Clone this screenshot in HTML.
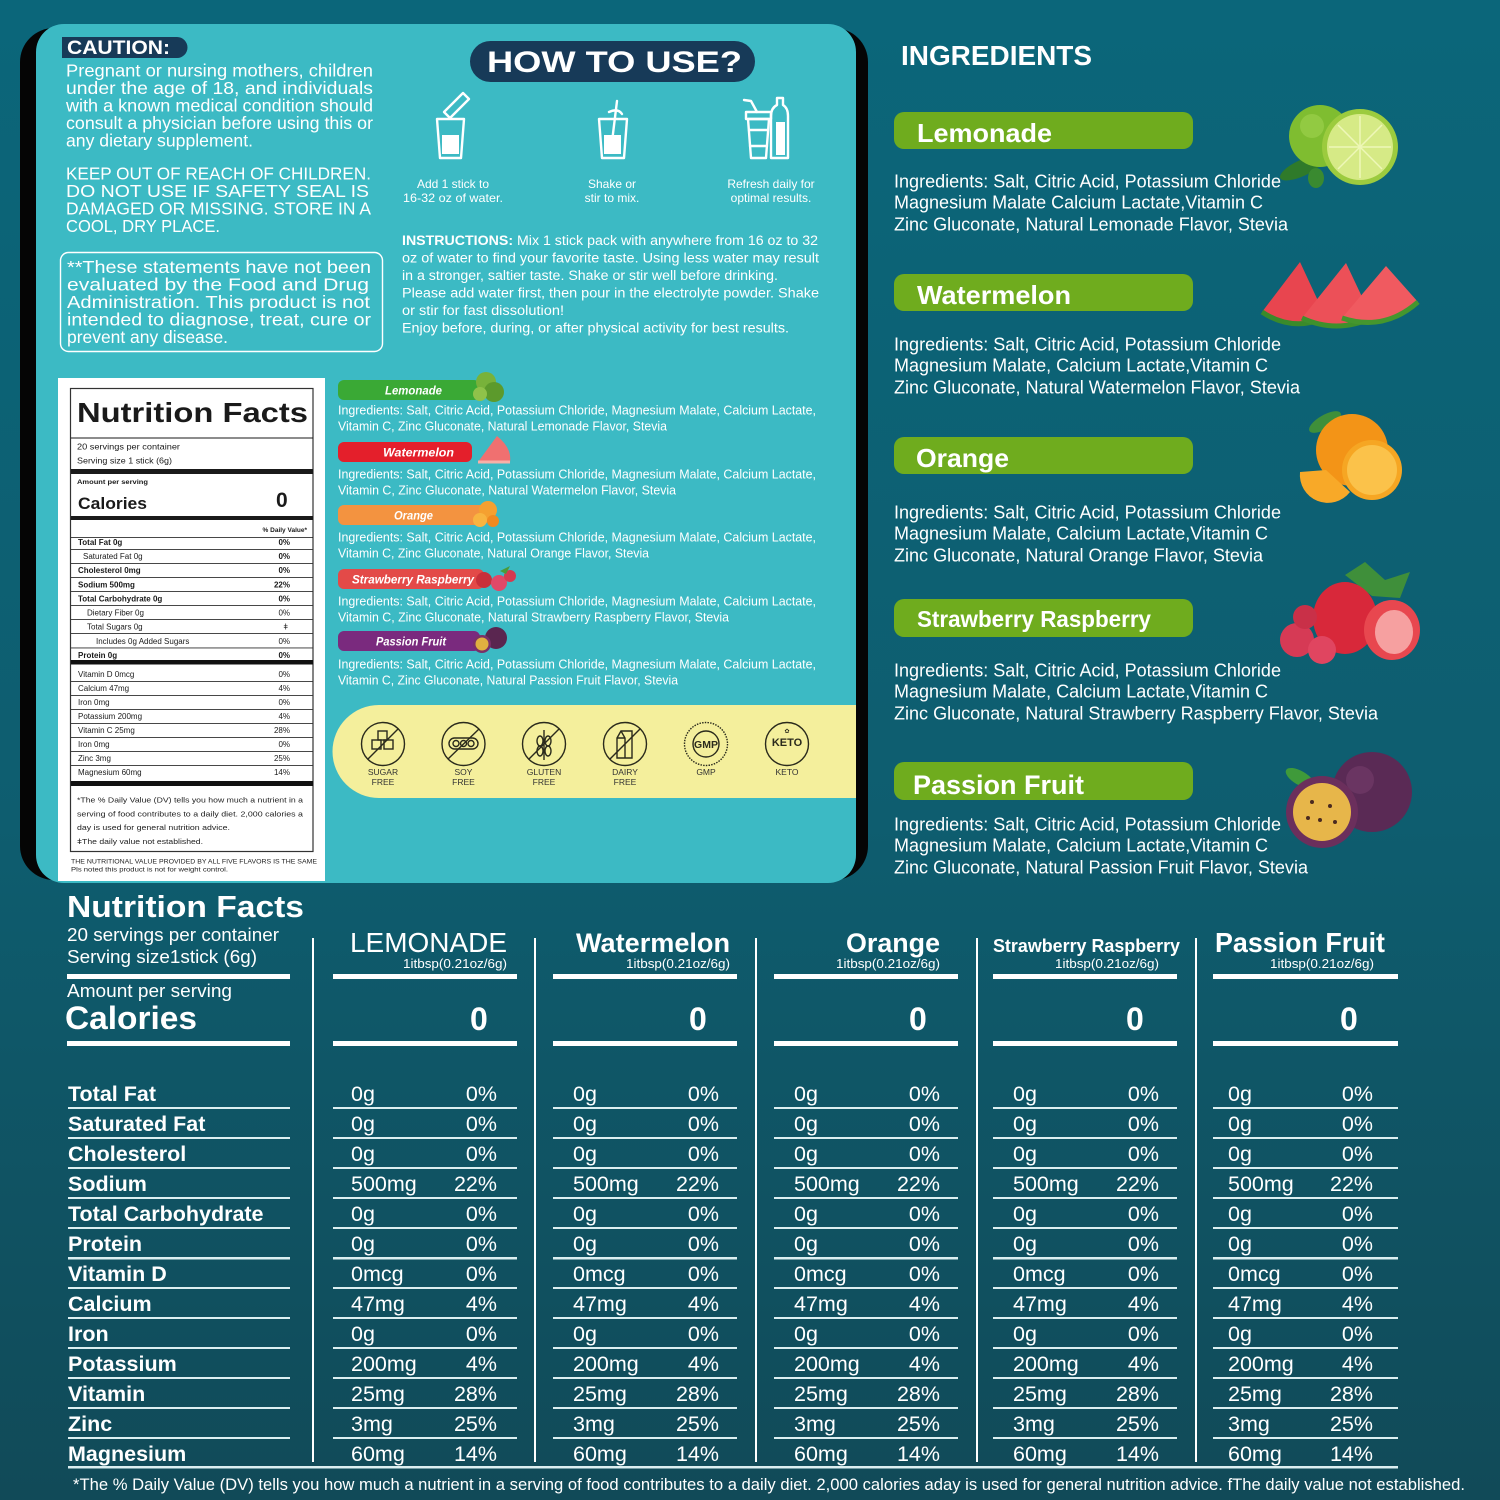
<!DOCTYPE html>
<html><head><meta charset="utf-8">
<style>
html,body{margin:0;padding:0;background:#0e6174;}
svg{display:block}
text{font-family:"Liberation Sans",Arial,sans-serif;}
</style></head><body>
<svg width="1500" height="1500" viewBox="0 0 1500 1500" xmlns="http://www.w3.org/2000/svg">
<defs>
<linearGradient id="bg" x1="0" y1="0" x2="0" y2="1">
<stop offset="0" stop-color="#0b667a"/>
<stop offset="0.55" stop-color="#0e5d6f"/>
<stop offset="1" stop-color="#114a58"/>
</linearGradient>
</defs>
<rect width="1500" height="1500" fill="url(#bg)"/>

<!-- left panel -->
<rect x="20" y="28" width="848" height="852" rx="34" fill="#050505"/>
<rect x="36" y="24" width="820" height="859" rx="28" fill="#3cbac4"/>

<!-- caution -->
<path d="M62 37 H177 A10.5 10.5 0 0 1 177 58 H62 Z" fill="#173a58"/>
<text x="67" y="54" font-size="19" font-weight="bold" fill="#fff" textLength="103" lengthAdjust="spacingAndGlyphs">CAUTION:</text>
<g fill="#fff" font-size="17.5">
<text x="66" y="76.5" textLength="307" lengthAdjust="spacingAndGlyphs">Pregnant or nursing mothers, children</text>
<text x="66" y="94" textLength="307" lengthAdjust="spacingAndGlyphs">under the age of 18, and individuals</text>
<text x="66" y="111.5" textLength="307" lengthAdjust="spacingAndGlyphs">with a known medical condition should</text>
<text x="66" y="129" textLength="307" lengthAdjust="spacingAndGlyphs">consult a physician before using this or</text>
<text x="66" y="146.5" textLength="187" lengthAdjust="spacingAndGlyphs">any dietary supplement.</text>
<text x="66" y="179.5" textLength="305" lengthAdjust="spacingAndGlyphs">KEEP OUT OF REACH OF CHILDREN.</text>
<text x="66" y="197" textLength="303" lengthAdjust="spacingAndGlyphs">DO NOT USE IF SAFETY SEAL IS</text>
<text x="66" y="214.5" textLength="305" lengthAdjust="spacingAndGlyphs">DAMAGED OR MISSING. STORE IN A</text>
<text x="66" y="232" textLength="154" lengthAdjust="spacingAndGlyphs">COOL, DRY PLACE.</text>
</g>
<rect x="60.5" y="252.5" width="322" height="99" rx="8" fill="none" stroke="#fff" stroke-width="1.4"/>
<g fill="#fff" font-size="17.5">
<text x="67" y="273" textLength="304" lengthAdjust="spacingAndGlyphs">**These statements have not been</text>
<text x="67" y="290.5" textLength="302" lengthAdjust="spacingAndGlyphs">evaluated by the Food and Drug</text>
<text x="67" y="308" textLength="303" lengthAdjust="spacingAndGlyphs">Administration. This product is not</text>
<text x="67" y="325.5" textLength="304" lengthAdjust="spacingAndGlyphs">intended to diagnose, treat, cure or</text>
<text x="67" y="343" textLength="161" lengthAdjust="spacingAndGlyphs">prevent any disease.</text>
</g>

<!-- how to use -->
<rect x="470" y="41" width="285" height="41" rx="20.5" fill="#173a58"/>
<text x="487" y="72" font-size="30" font-weight="bold" fill="#fff" textLength="255" lengthAdjust="spacingAndGlyphs">HOW TO USE?</text>

<g fill="none" stroke="#fff" stroke-width="2.4" stroke-linejoin="round" stroke-linecap="round">
<polygon points="444,112 463,93 469,99 450,118"/>
<path d="M437 119 H464 L461 158 H440 Z"/>
<path d="M599 119 H627 L624 158 H602 Z"/>
<path d="M611 150 L617 101"/>
<path d="M609 112 Q618 108 622 114"/>
<path d="M746 112 H771 V119 H746 Z"/>
<path d="M748 119 H769 L766 158 H751 Z"/>
<path d="M749 130 H768 M750 146 H767"/>
<path d="M757 112 L751 101 L744 100"/>
<path d="M771 158 V116 Q771 108 777 105 V98 H783 V105 Q788 108 788 116 V158 Z"/>
</g>
<rect x="442" y="135" width="17" height="19" fill="#fff"/>
<rect x="604" y="135" width="17" height="19" fill="#fff"/>
<rect x="776" y="122" width="9" height="33" fill="#fff"/>

<g fill="#fff" font-size="12" text-anchor="middle">
<text x="453" y="188">Add 1 stick to</text>
<text x="453" y="202" textLength="100" lengthAdjust="spacingAndGlyphs">16-32 oz of water.</text>
<text x="612" y="188">Shake or</text>
<text x="612" y="202">stir to mix.</text>
<text x="771" y="188">Refresh daily for</text>
<text x="771" y="202">optimal results.</text>
</g>

<g fill="#fff" font-size="13.5">
<text x="402" y="245" textLength="416" lengthAdjust="spacingAndGlyphs"><tspan font-weight="bold">INSTRUCTIONS:</tspan> Mix 1 stick pack with anywhere from 16 oz to 32</text>
<text x="402" y="262.5" textLength="417" lengthAdjust="spacingAndGlyphs">oz of water to find your favorite taste. Using less water may result</text>
<text x="402" y="280" textLength="376" lengthAdjust="spacingAndGlyphs">in a stronger, saltier taste. Shake or stir well before drinking.</text>
<text x="402" y="297.5" textLength="417" lengthAdjust="spacingAndGlyphs">Please add water first, then pour in the electrolyte powder. Shake</text>
<text x="402" y="315" textLength="162" lengthAdjust="spacingAndGlyphs">or stir for fast dissolution!</text>
<text x="402" y="332.5" textLength="387" lengthAdjust="spacingAndGlyphs">Enjoy before, during, or after physical activity for best results.</text>
</g>

<!-- nutrition label -->
<rect x="58" y="378" width="267" height="503" fill="#fff"/>
<rect x="70.5" y="388.5" width="242.5" height="463" fill="none" stroke="#333" stroke-width="1.2"/>
<g fill="#1a1a1a">
<text x="77" y="422" font-size="28" font-weight="bold" textLength="231" lengthAdjust="spacingAndGlyphs">Nutrition Facts</text>
<rect x="71" y="437.5" width="242" height="1"/>
<text x="77" y="449.5" font-size="8.5" textLength="103" lengthAdjust="spacingAndGlyphs">20 servings per container</text>
<text x="77" y="463.5" font-size="8.5" textLength="95" lengthAdjust="spacingAndGlyphs">Serving size 1 stick (6g)</text>
<rect x="71" y="469" width="242" height="5"/>
<text x="77" y="484" font-size="6.5" font-weight="bold" textLength="71" lengthAdjust="spacingAndGlyphs">Amount per serving</text>
<text x="78" y="509" font-size="17" font-weight="bold" textLength="69" lengthAdjust="spacingAndGlyphs">Calories</text>
<text x="276" y="507" font-size="21" font-weight="bold">0</text>
<rect x="71" y="516" width="242" height="4"/>
<text x="307" y="532" font-size="6.5" font-weight="bold" text-anchor="end">% Daily Value*</text>
<rect x="71" y="537" width="242" height="0.8"/>
</g>
<g fill="#1a1a1a" font-size="8">
<text x="78" y="545" font-weight="bold">Total Fat 0g</text><text x="290" y="545" text-anchor="end" font-weight="bold">0%</text>
<text x="83" y="559">Saturated Fat 0g</text><text x="290" y="559" text-anchor="end" font-weight="bold">0%</text>
<text x="78" y="573" font-weight="bold">Cholesterol 0mg</text><text x="290" y="573" text-anchor="end" font-weight="bold">0%</text>
<text x="78" y="587.5" font-weight="bold">Sodium 500mg</text><text x="290" y="587.5" text-anchor="end" font-weight="bold">22%</text>
<text x="78" y="601.5" font-weight="bold">Total Carbohydrate 0g</text><text x="290" y="601.5" text-anchor="end" font-weight="bold">0%</text>
<text x="87" y="615.5">Dietary Fiber 0g</text><text x="290" y="615.5" text-anchor="end">0%</text>
<text x="87" y="629.5">Total Sugars 0g</text><text x="288" y="629.5" text-anchor="end">ǂ</text>
<text x="96" y="644">Includes 0g Added Sugars</text><text x="290" y="644" text-anchor="end">0%</text>
<text x="78" y="658" font-weight="bold">Protein 0g</text><text x="290" y="658" text-anchor="end" font-weight="bold">0%</text>
<text x="78" y="677">Vitamin D 0mcg</text><text x="290" y="677" text-anchor="end">0%</text>
<text x="78" y="691">Calcium 47mg</text><text x="290" y="691" text-anchor="end">4%</text>
<text x="78" y="705">Iron 0mg</text><text x="290" y="705" text-anchor="end">0%</text>
<text x="78" y="719">Potassium 200mg</text><text x="290" y="719" text-anchor="end">4%</text>
<text x="78" y="733">Vitamin C 25mg</text><text x="290" y="733" text-anchor="end">28%</text>
<text x="78" y="747">Iron 0mg</text><text x="290" y="747" text-anchor="end">0%</text>
<text x="78" y="761">Zinc 3mg</text><text x="290" y="761" text-anchor="end">25%</text>
<text x="78" y="775">Magnesium 60mg</text><text x="290" y="775" text-anchor="end">14%</text>
</g>
<g fill="#333">
<rect x="71" y="549" width="242" height="0.9"/>
<rect x="71" y="563" width="242" height="0.9"/>
<rect x="71" y="577" width="242" height="0.9"/>
<rect x="71" y="591" width="242" height="0.9"/>
<rect x="71" y="605" width="242" height="0.9"/>
<rect x="71" y="619" width="242" height="0.9"/>
<rect x="71" y="633" width="242" height="0.9"/>
<rect x="71" y="647.5" width="242" height="0.9"/>
<rect x="71" y="660" width="242" height="4.5" fill="#111"/>
<rect x="71" y="681" width="242" height="0.9"/>
<rect x="71" y="695" width="242" height="0.9"/>
<rect x="71" y="709" width="242" height="0.9"/>
<rect x="71" y="723" width="242" height="0.9"/>
<rect x="71" y="737" width="242" height="0.9"/>
<rect x="71" y="751" width="242" height="0.9"/>
<rect x="71" y="765" width="242" height="0.9"/>
<rect x="71" y="781" width="242" height="5" fill="#111"/>
</g>
<g fill="#222" font-size="7.5">
<text x="77" y="802.5" textLength="226" lengthAdjust="spacingAndGlyphs">*The % Daily Value (DV) tells you how much a nutrient in a</text>
<text x="77" y="816.5" textLength="226" lengthAdjust="spacingAndGlyphs">serving of food contributes to a daily diet. 2,000 calories a</text>
<text x="77" y="830" textLength="153" lengthAdjust="spacingAndGlyphs">day is used for general nutrition advice.</text>
<text x="77" y="844" textLength="126" lengthAdjust="spacingAndGlyphs">ǂThe daily value not established.</text>
<text x="71" y="863.5" font-size="6.3" textLength="246" lengthAdjust="spacingAndGlyphs">THE NUTRITIONAL VALUE PROVIDED BY ALL FIVE FLAVORS IS THE SAME</text>
<text x="71" y="871.5" font-size="6.3" textLength="157" lengthAdjust="spacingAndGlyphs">Pls noted this product is not for weight control.</text>
</g>

<!-- flavor pills -->
<rect x="338" y="380" width="142" height="20" rx="6" fill="#3aa935"/>
<circle cx="486" cy="382" r="10" fill="#78b23a"/><circle cx="494" cy="392" r="10" fill="#5c9a2c"/><circle cx="480" cy="394" r="7" fill="#8fc24a"/>
<rect x="338" y="442" width="134" height="20" rx="6" fill="#e41f2b"/>
<path d="M478 462 L497 436 Q512 448 510 462 Z" fill="#f07070"/><path d="M478 462 H510" stroke="#f8b0a8" stroke-width="3"/>
<rect x="338" y="505" width="150" height="20" rx="6" fill="#f39340"/>
<circle cx="488" cy="510" r="9" fill="#f5a030"/><circle cx="480" cy="520" r="7" fill="#f8b440"/><circle cx="493" cy="521" r="6" fill="#f08a20"/>
<rect x="338" y="569" width="146" height="20" rx="6" fill="#e34a48"/>
<circle cx="484" cy="580" r="8" fill="#c8303a"/><circle cx="499" cy="583" r="8" fill="#e04868"/><circle cx="510" cy="576" r="6" fill="#d63a50"/><path d="M500 571 L510 566 L506 574 Z" fill="#4a9a3a"/>
<rect x="338" y="631" width="142" height="20" rx="6" fill="#7a2a7e"/>
<circle cx="496" cy="638" r="11" fill="#5a2650"/><circle cx="482" cy="644" r="9" fill="#7a3068"/><circle cx="482" cy="644" r="6.5" fill="#e0b040"/>
<g fill="#fff" font-size="12" font-weight="bold" font-style="italic">
<text x="385" y="394.5" textLength="57" lengthAdjust="spacingAndGlyphs">Lemonade</text>
<text x="383" y="456.5" textLength="71" lengthAdjust="spacingAndGlyphs">Watermelon</text>
<text x="394" y="519.5" textLength="39" lengthAdjust="spacingAndGlyphs">Orange</text>
<text x="352" y="583.5" textLength="122" lengthAdjust="spacingAndGlyphs">Strawberry Raspberry</text>
<text x="376" y="645.5" textLength="70" lengthAdjust="spacingAndGlyphs">Passion Fruit</text>
</g>
<g fill="#fff" font-size="12.5">
<text x="338" y="414.5" textLength="478" lengthAdjust="spacingAndGlyphs">Ingredients: Salt, Citric Acid, Potassium Chloride, Magnesium Malate, Calcium Lactate,</text>
<text x="338" y="430.5" textLength="329" lengthAdjust="spacingAndGlyphs">Vitamin C, Zinc Gluconate, Natural Lemonade Flavor, Stevia</text>
<text x="338" y="478.5" textLength="478" lengthAdjust="spacingAndGlyphs">Ingredients: Salt, Citric Acid, Potassium Chloride, Magnesium Malate, Calcium Lactate,</text>
<text x="338" y="494.5" textLength="338" lengthAdjust="spacingAndGlyphs">Vitamin C, Zinc Gluconate, Natural Watermelon Flavor, Stevia</text>
<text x="338" y="541.5" textLength="478" lengthAdjust="spacingAndGlyphs">Ingredients: Salt, Citric Acid, Potassium Chloride, Magnesium Malate, Calcium Lactate,</text>
<text x="338" y="557.5" textLength="311" lengthAdjust="spacingAndGlyphs">Vitamin C, Zinc Gluconate, Natural Orange Flavor, Stevia</text>
<text x="338" y="605.5" textLength="478" lengthAdjust="spacingAndGlyphs">Ingredients: Salt, Citric Acid, Potassium Chloride, Magnesium Malate, Calcium Lactate,</text>
<text x="338" y="621.5" textLength="391" lengthAdjust="spacingAndGlyphs">Vitamin C, Zinc Gluconate, Natural Strawberry Raspberry Flavor, Stevia</text>
<text x="338" y="668.5" textLength="478" lengthAdjust="spacingAndGlyphs">Ingredients: Salt, Citric Acid, Potassium Chloride, Magnesium Malate, Calcium Lactate,</text>
<text x="338" y="684.5" textLength="340" lengthAdjust="spacingAndGlyphs">Vitamin C, Zinc Gluconate, Natural Passion Fruit Flavor, Stevia</text>
</g>

<!-- yellow badge band -->
<path d="M379 705 H856 V798 H379 A46.5 46.5 0 0 1 379 705 Z" fill="#f4ef9c"/>
<g fill="none" stroke="#2a2a1c" stroke-width="1.4">
<circle cx="383" cy="744" r="21.5"/><line x1="368" y1="759" x2="398" y2="729"/>
<rect x="378" y="731" width="9" height="9"/><rect x="372" y="740" width="9" height="9"/><rect x="384" y="740" width="9" height="9"/>
<circle cx="463.5" cy="744" r="21.5"/><line x1="448" y1="759" x2="479" y2="729"/>
<rect x="449" y="738" width="29" height="11" rx="5.5"/><circle cx="456" cy="743.5" r="3"/><circle cx="463.5" cy="743.5" r="3"/><circle cx="471" cy="743.5" r="3"/>
<circle cx="544" cy="744" r="21.5"/><line x1="529" y1="759" x2="559" y2="729"/>
<line x1="544" y1="730" x2="544" y2="760"/><ellipse cx="540" cy="741" rx="3" ry="5"/><ellipse cx="548" cy="741" rx="3" ry="5"/><ellipse cx="540" cy="751" rx="3" ry="5"/><ellipse cx="548" cy="751" rx="3" ry="5"/>
<circle cx="625" cy="744" r="21.5"/><line x1="610" y1="759" x2="640" y2="729"/>
<path d="M617 738 L621 731 H632 V758 H617 Z M621 731 L625 738 V758 M617 738 H625"/>
<circle cx="706" cy="744" r="21.5" stroke-dasharray="1.5 1.2"/><circle cx="706" cy="744" r="13"/>
<circle cx="787" cy="744" r="21.5"/>
</g>
<text x="706" y="748" font-size="10.5" font-weight="bold" fill="#2a2a1c" text-anchor="middle">GMP</text>
<text x="787" y="746" font-size="11" font-weight="bold" fill="#2a2a1c" text-anchor="middle">KETO</text>
<text x="787" y="733" font-size="6" fill="#2a2a1c" text-anchor="middle">✿</text>
<g fill="#333" font-size="8.5" text-anchor="middle">
<text x="383" y="775">SUGAR</text><text x="383" y="785">FREE</text>
<text x="463.5" y="775">SOY</text><text x="463.5" y="785">FREE</text>
<text x="544" y="775">GLUTEN</text><text x="544" y="785">FREE</text>
<text x="625" y="775">DAIRY</text><text x="625" y="785">FREE</text>
<text x="706" y="775">GMP</text>
<text x="787" y="775">KETO</text>
</g>

<!-- right ingredients -->
<text x="901" y="65" font-size="28" font-weight="bold" fill="#fff" textLength="191" lengthAdjust="spacingAndGlyphs">INGREDIENTS</text>
<g fill="#6fac1e">
<rect x="894" y="112" width="299" height="37" rx="10"/>
<rect x="894" y="274" width="299" height="37" rx="10"/>
<rect x="894" y="437" width="299" height="37" rx="10"/>
<rect x="894" y="599" width="299" height="38" rx="10"/>
<rect x="894" y="762" width="299" height="38" rx="10"/>
</g>
<g fill="#fff" font-weight="bold">
<text x="917" y="142" font-size="26" textLength="135" lengthAdjust="spacingAndGlyphs">Lemonade</text>
<text x="917" y="304" font-size="26" textLength="154" lengthAdjust="spacingAndGlyphs">Watermelon</text>
<text x="916" y="467" font-size="26" textLength="93" lengthAdjust="spacingAndGlyphs">Orange</text>
<text x="917" y="627" font-size="23" textLength="234" lengthAdjust="spacingAndGlyphs">Strawberry Raspberry</text>
<text x="913" y="794" font-size="27" textLength="171" lengthAdjust="spacingAndGlyphs">Passion Fruit</text>
</g>
<g fill="#fff" font-size="18">
<text x="894" y="187.5" textLength="387" lengthAdjust="spacingAndGlyphs">Ingredients: Salt, Citric Acid, Potassium Chloride</text>
<text x="894" y="208.5" textLength="369" lengthAdjust="spacingAndGlyphs">Magnesium Malate Calcium Lactate,Vitamin C</text>
<text x="894" y="230.5" textLength="394" lengthAdjust="spacingAndGlyphs">Zinc Gluconate, Natural Lemonade Flavor, Stevia</text>
<text x="894" y="350.5" textLength="387" lengthAdjust="spacingAndGlyphs">Ingredients: Salt, Citric Acid, Potassium Chloride</text>
<text x="894" y="371.5" textLength="374" lengthAdjust="spacingAndGlyphs">Magnesium Malate, Calcium Lactate,Vitamin C</text>
<text x="894" y="393.5" textLength="406" lengthAdjust="spacingAndGlyphs">Zinc Gluconate, Natural Watermelon Flavor, Stevia</text>
<text x="894" y="518.5" textLength="387" lengthAdjust="spacingAndGlyphs">Ingredients: Salt, Citric Acid, Potassium Chloride</text>
<text x="894" y="539.5" textLength="374" lengthAdjust="spacingAndGlyphs">Magnesium Malate, Calcium Lactate,Vitamin C</text>
<text x="894" y="561.5" textLength="369" lengthAdjust="spacingAndGlyphs">Zinc Gluconate, Natural Orange Flavor, Stevia</text>
<text x="894" y="676.5" textLength="387" lengthAdjust="spacingAndGlyphs">Ingredients: Salt, Citric Acid, Potassium Chloride</text>
<text x="894" y="697.5" textLength="374" lengthAdjust="spacingAndGlyphs">Magnesium Malate, Calcium Lactate,Vitamin C</text>
<text x="894" y="719.5" textLength="484" lengthAdjust="spacingAndGlyphs">Zinc Gluconate, Natural Strawberry Raspberry Flavor, Stevia</text>
<text x="894" y="830.5" textLength="387" lengthAdjust="spacingAndGlyphs">Ingredients: Salt, Citric Acid, Potassium Chloride</text>
<text x="894" y="851.5" textLength="374" lengthAdjust="spacingAndGlyphs">Magnesium Malate, Calcium Lactate,Vitamin C</text>
<text x="894" y="873.5" textLength="414" lengthAdjust="spacingAndGlyphs">Zinc Gluconate, Natural Passion Fruit Flavor, Stevia</text>
</g>

<!-- fruits -->
<ellipse cx="1302" cy="168" rx="24" ry="8" transform="rotate(-25 1302 168)" fill="#2f7a2a"/>
<ellipse cx="1316" cy="178" rx="8" ry="10" fill="#3a8a30"/>
<circle cx="1320" cy="136" r="31" fill="#7fbd30"/>
<circle cx="1312" cy="126" r="12" fill="#9fd24e" opacity="0.6"/>
<circle cx="1360" cy="147" r="38" fill="#9ccb3e"/>
<circle cx="1360" cy="147" r="33" fill="#d6ea86"/>
<g stroke="#eef7b8" stroke-width="1.5">
<line x1="1360" y1="116" x2="1360" y2="178"/><line x1="1329" y1="147" x2="1391" y2="147"/>
<line x1="1338" y1="125" x2="1382" y2="169"/><line x1="1382" y1="125" x2="1338" y2="169"/>
</g>
<path d="M1300 262 L1262 312 Q1292 332 1326 318 Z" fill="#e8454f"/>
<path d="M1262 312 Q1292 332 1326 318" stroke="#3a8a2a" stroke-width="5" fill="none"/>
<path d="M1346 263 L1302 318 Q1336 334 1372 318 Z" fill="#ec5058"/>
<path d="M1302 318 Q1336 334 1372 318" stroke="#3f902c" stroke-width="5" fill="none"/>
<path d="M1386 266 L1342 318 Q1384 332 1418 302 Z" fill="#f05a60"/>
<path d="M1342 318 Q1384 332 1418 302" stroke="#45962e" stroke-width="5" fill="none"/>
<ellipse cx="1325" cy="422" rx="18" ry="7" transform="rotate(-30 1325 422)" fill="#3f8f3a"/>
<circle cx="1352" cy="450" r="36" fill="#f39417"/>
<circle cx="1372" cy="470" r="30" fill="#f6a623"/>
<circle cx="1372" cy="470" r="25" fill="#fbc24a"/>
<path d="M1300 472 A28 28 0 0 0 1350 492 L1326 470 Z" fill="#f8a928"/>
<path d="M1345 575 L1365 562 L1385 580 L1410 572 L1400 598 L1372 596 Z" fill="#3f8f3a"/>
<ellipse cx="1345" cy="618" rx="32" ry="36" fill="#d8283a"/>
<ellipse cx="1392" cy="630" rx="28" ry="30" fill="#e8474f"/>
<ellipse cx="1394" cy="632" rx="19" ry="22" fill="#f6a0a0"/>
<circle cx="1297" cy="640" r="17" fill="#d63a55"/>
<circle cx="1322" cy="650" r="14" fill="#e04560"/>
<circle cx="1305" cy="617" r="12" fill="#c93048"/>
<ellipse cx="1300" cy="778" rx="16" ry="7" transform="rotate(30 1300 778)" fill="#3f9a3a"/>
<circle cx="1372" cy="792" r="40" fill="#5a2a55"/>
<circle cx="1360" cy="780" r="14" fill="#7a4070" opacity="0.5"/>
<circle cx="1322" cy="812" r="36" fill="#6b2f5c"/>
<circle cx="1322" cy="812" r="29" fill="#e7b64a"/>
<g fill="#4a2a20"><circle cx="1312" cy="802" r="2"/><circle cx="1330" cy="806" r="2"/><circle cx="1320" cy="820" r="2"/><circle cx="1335" cy="822" r="2"/><circle cx="1308" cy="818" r="2"/></g>

<!-- bottom table -->
<g fill="#fff">
<text x="67" y="917" font-size="31" font-weight="bold" textLength="237" lengthAdjust="spacingAndGlyphs">Nutrition Facts</text>
<text x="67" y="941" font-size="18.5" textLength="212" lengthAdjust="spacingAndGlyphs">20 servings per container</text>
<text x="67" y="963" font-size="18.5" textLength="190" lengthAdjust="spacingAndGlyphs">Serving size1stick (6g)</text>
<text x="67" y="997" font-size="18.5" textLength="165" lengthAdjust="spacingAndGlyphs">Amount per serving</text>
<text x="65" y="1029" font-size="32" font-weight="bold" textLength="132" lengthAdjust="spacingAndGlyphs">Calories</text>

<text x="350" y="952" font-size="28" textLength="157" lengthAdjust="spacingAndGlyphs">LEMONADE</text>
<text x="576" y="952" font-size="27" font-weight="bold" textLength="154" lengthAdjust="spacingAndGlyphs">Watermelon</text>
<text x="846" y="952" font-size="27" font-weight="bold" textLength="94" lengthAdjust="spacingAndGlyphs">Orange</text>
<text x="993" y="952" font-size="18.5" font-weight="bold" textLength="187" lengthAdjust="spacingAndGlyphs">Strawberry Raspberry</text>
<text x="1215" y="952" font-size="28" font-weight="bold" textLength="170" lengthAdjust="spacingAndGlyphs">Passion Fruit</text>
<g font-size="13">
<text x="403" y="968" textLength="104" lengthAdjust="spacingAndGlyphs">1itbsp(0.21oz/6g)</text>
<text x="626" y="968" textLength="104" lengthAdjust="spacingAndGlyphs">1itbsp(0.21oz/6g)</text>
<text x="836" y="968" textLength="104" lengthAdjust="spacingAndGlyphs">1itbsp(0.21oz/6g)</text>
<text x="1055" y="968" textLength="104" lengthAdjust="spacingAndGlyphs">1itbsp(0.21oz/6g)</text>
<text x="1270" y="968" textLength="104" lengthAdjust="spacingAndGlyphs">1itbsp(0.21oz/6g)</text>
</g>
<g font-size="32" font-weight="bold">
<text x="470" y="1030">0</text><text x="689" y="1030">0</text><text x="909" y="1030">0</text><text x="1126" y="1030">0</text><text x="1340" y="1030">0</text>
</g>
<rect x="67" y="974" width="223" height="5"/><rect x="67" y="1041" width="223" height="5"/>
<rect x="333" y="974" width="184" height="5"/><rect x="333" y="1041" width="184" height="5"/>
<rect x="553" y="974" width="184" height="5"/><rect x="553" y="1041" width="184" height="5"/>
<rect x="774" y="974" width="184" height="5"/><rect x="774" y="1041" width="184" height="5"/>
<rect x="993" y="974" width="184" height="5"/><rect x="993" y="1041" width="184" height="5"/>
<rect x="1213" y="974" width="185" height="5"/><rect x="1213" y="1041" width="185" height="5"/>
<rect x="312" y="938" width="2" height="524"/>
<rect x="534" y="938" width="2" height="524"/>
<rect x="755" y="938" width="2" height="524"/>
<rect x="976" y="938" width="2" height="524"/>
<rect x="1195" y="938" width="2" height="524"/>
</g>

<g fill="#dcefF1">
<rect x="68" y="1107" width="222" height="2"/><rect x="333" y="1107" width="184" height="2"/><rect x="553" y="1107" width="184" height="2"/><rect x="774" y="1107" width="184" height="2"/><rect x="993" y="1107" width="184" height="2"/><rect x="1213" y="1107" width="185" height="2"/>
<rect x="68" y="1137" width="222" height="2"/><rect x="333" y="1137" width="184" height="2"/><rect x="553" y="1137" width="184" height="2"/><rect x="774" y="1137" width="184" height="2"/><rect x="993" y="1137" width="184" height="2"/><rect x="1213" y="1137" width="185" height="2"/>
<rect x="68" y="1167" width="222" height="2"/><rect x="333" y="1167" width="184" height="2"/><rect x="553" y="1167" width="184" height="2"/><rect x="774" y="1167" width="184" height="2"/><rect x="993" y="1167" width="184" height="2"/><rect x="1213" y="1167" width="185" height="2"/>
<rect x="68" y="1197" width="222" height="2"/><rect x="333" y="1197" width="184" height="2"/><rect x="553" y="1197" width="184" height="2"/><rect x="774" y="1197" width="184" height="2"/><rect x="993" y="1197" width="184" height="2"/><rect x="1213" y="1197" width="185" height="2"/>
<rect x="68" y="1227" width="222" height="2"/><rect x="333" y="1227" width="184" height="2"/><rect x="553" y="1227" width="184" height="2"/><rect x="774" y="1227" width="184" height="2"/><rect x="993" y="1227" width="184" height="2"/><rect x="1213" y="1227" width="185" height="2"/>
<rect x="68" y="1257" width="222" height="2.5"/><rect x="333" y="1257" width="184" height="2.5"/><rect x="553" y="1257" width="184" height="2.5"/><rect x="774" y="1257" width="184" height="2.5"/><rect x="993" y="1257" width="184" height="2.5"/><rect x="1213" y="1257" width="185" height="2.5"/>
<rect x="68" y="1287" width="222" height="2"/><rect x="333" y="1287" width="184" height="2"/><rect x="553" y="1287" width="184" height="2"/><rect x="774" y="1287" width="184" height="2"/><rect x="993" y="1287" width="184" height="2"/><rect x="1213" y="1287" width="185" height="2"/>
<rect x="68" y="1317" width="222" height="2"/><rect x="333" y="1317" width="184" height="2"/><rect x="553" y="1317" width="184" height="2"/><rect x="774" y="1317" width="184" height="2"/><rect x="993" y="1317" width="184" height="2"/><rect x="1213" y="1317" width="185" height="2"/>
<rect x="68" y="1347" width="222" height="2"/><rect x="333" y="1347" width="184" height="2"/><rect x="553" y="1347" width="184" height="2"/><rect x="774" y="1347" width="184" height="2"/><rect x="993" y="1347" width="184" height="2"/><rect x="1213" y="1347" width="185" height="2"/>
<rect x="68" y="1377" width="222" height="2"/><rect x="333" y="1377" width="184" height="2"/><rect x="553" y="1377" width="184" height="2"/><rect x="774" y="1377" width="184" height="2"/><rect x="993" y="1377" width="184" height="2"/><rect x="1213" y="1377" width="185" height="2"/>
<rect x="68" y="1407" width="222" height="2"/><rect x="333" y="1407" width="184" height="2"/><rect x="553" y="1407" width="184" height="2"/><rect x="774" y="1407" width="184" height="2"/><rect x="993" y="1407" width="184" height="2"/><rect x="1213" y="1407" width="185" height="2"/>
<rect x="68" y="1437" width="222" height="2"/><rect x="333" y="1437" width="184" height="2"/><rect x="553" y="1437" width="184" height="2"/><rect x="774" y="1437" width="184" height="2"/><rect x="993" y="1437" width="184" height="2"/><rect x="1213" y="1437" width="185" height="2"/>
<rect x="68" y="1466" width="1330" height="2.5"/>
</g>

<g fill="#fff" font-size="21.5" font-weight="bold">
<text x="68" y="1101">Total Fat</text>
<text x="68" y="1131">Saturated Fat</text>
<text x="68" y="1161">Cholesterol</text>
<text x="68" y="1191">Sodium</text>
<text x="68" y="1221">Total Carbohydrate</text>
<text x="68" y="1251">Protein</text>
<text x="68" y="1281">Vitamin D</text>
<text x="68" y="1311">Calcium</text>
<text x="68" y="1341">Iron</text>
<text x="68" y="1371">Potassium</text>
<text x="68" y="1401">Vitamin</text>
<text x="68" y="1431">Zinc</text>
<text x="68" y="1461">Magnesium</text>
</g>

<g fill="#fff" font-size="21.5">
<g>
<text x="351" y="1101">0g</text><text x="351" y="1131">0g</text><text x="351" y="1161">0g</text><text x="351" y="1191">500mg</text><text x="351" y="1221">0g</text><text x="351" y="1251">0g</text><text x="351" y="1281">0mcg</text><text x="351" y="1311">47mg</text><text x="351" y="1341">0g</text><text x="351" y="1371">200mg</text><text x="351" y="1401">25mg</text><text x="351" y="1431">3mg</text><text x="351" y="1461">60mg</text>
</g>
<g text-anchor="end">
<text x="497" y="1101">0%</text><text x="497" y="1131">0%</text><text x="497" y="1161">0%</text><text x="497" y="1191">22%</text><text x="497" y="1221">0%</text><text x="497" y="1251">0%</text><text x="497" y="1281">0%</text><text x="497" y="1311">4%</text><text x="497" y="1341">0%</text><text x="497" y="1371">4%</text><text x="497" y="1401">28%</text><text x="497" y="1431">25%</text><text x="497" y="1461">14%</text>
</g>
<g>
<text x="573" y="1101">0g</text><text x="573" y="1131">0g</text><text x="573" y="1161">0g</text><text x="573" y="1191">500mg</text><text x="573" y="1221">0g</text><text x="573" y="1251">0g</text><text x="573" y="1281">0mcg</text><text x="573" y="1311">47mg</text><text x="573" y="1341">0g</text><text x="573" y="1371">200mg</text><text x="573" y="1401">25mg</text><text x="573" y="1431">3mg</text><text x="573" y="1461">60mg</text>
</g>
<g text-anchor="end">
<text x="719" y="1101">0%</text><text x="719" y="1131">0%</text><text x="719" y="1161">0%</text><text x="719" y="1191">22%</text><text x="719" y="1221">0%</text><text x="719" y="1251">0%</text><text x="719" y="1281">0%</text><text x="719" y="1311">4%</text><text x="719" y="1341">0%</text><text x="719" y="1371">4%</text><text x="719" y="1401">28%</text><text x="719" y="1431">25%</text><text x="719" y="1461">14%</text>
</g>
<g>
<text x="794" y="1101">0g</text><text x="794" y="1131">0g</text><text x="794" y="1161">0g</text><text x="794" y="1191">500mg</text><text x="794" y="1221">0g</text><text x="794" y="1251">0g</text><text x="794" y="1281">0mcg</text><text x="794" y="1311">47mg</text><text x="794" y="1341">0g</text><text x="794" y="1371">200mg</text><text x="794" y="1401">25mg</text><text x="794" y="1431">3mg</text><text x="794" y="1461">60mg</text>
</g>
<g text-anchor="end">
<text x="940" y="1101">0%</text><text x="940" y="1131">0%</text><text x="940" y="1161">0%</text><text x="940" y="1191">22%</text><text x="940" y="1221">0%</text><text x="940" y="1251">0%</text><text x="940" y="1281">0%</text><text x="940" y="1311">4%</text><text x="940" y="1341">0%</text><text x="940" y="1371">4%</text><text x="940" y="1401">28%</text><text x="940" y="1431">25%</text><text x="940" y="1461">14%</text>
</g>
<g>
<text x="1013" y="1101">0g</text><text x="1013" y="1131">0g</text><text x="1013" y="1161">0g</text><text x="1013" y="1191">500mg</text><text x="1013" y="1221">0g</text><text x="1013" y="1251">0g</text><text x="1013" y="1281">0mcg</text><text x="1013" y="1311">47mg</text><text x="1013" y="1341">0g</text><text x="1013" y="1371">200mg</text><text x="1013" y="1401">25mg</text><text x="1013" y="1431">3mg</text><text x="1013" y="1461">60mg</text>
</g>
<g text-anchor="end">
<text x="1159" y="1101">0%</text><text x="1159" y="1131">0%</text><text x="1159" y="1161">0%</text><text x="1159" y="1191">22%</text><text x="1159" y="1221">0%</text><text x="1159" y="1251">0%</text><text x="1159" y="1281">0%</text><text x="1159" y="1311">4%</text><text x="1159" y="1341">0%</text><text x="1159" y="1371">4%</text><text x="1159" y="1401">28%</text><text x="1159" y="1431">25%</text><text x="1159" y="1461">14%</text>
</g>
<g>
<text x="1228" y="1101">0g</text><text x="1228" y="1131">0g</text><text x="1228" y="1161">0g</text><text x="1228" y="1191">500mg</text><text x="1228" y="1221">0g</text><text x="1228" y="1251">0g</text><text x="1228" y="1281">0mcg</text><text x="1228" y="1311">47mg</text><text x="1228" y="1341">0g</text><text x="1228" y="1371">200mg</text><text x="1228" y="1401">25mg</text><text x="1228" y="1431">3mg</text><text x="1228" y="1461">60mg</text>
</g>
<g text-anchor="end">
<text x="1373" y="1101">0%</text><text x="1373" y="1131">0%</text><text x="1373" y="1161">0%</text><text x="1373" y="1191">22%</text><text x="1373" y="1221">0%</text><text x="1373" y="1251">0%</text><text x="1373" y="1281">0%</text><text x="1373" y="1311">4%</text><text x="1373" y="1341">0%</text><text x="1373" y="1371">4%</text><text x="1373" y="1401">28%</text><text x="1373" y="1431">25%</text><text x="1373" y="1461">14%</text>
</g>
</g>

<text x="73" y="1490" font-size="16.5" fill="#fff" textLength="1392" lengthAdjust="spacingAndGlyphs">*The % Daily Value (DV) tells you how much a nutrient in a serving of food contributes to a daily diet. 2,000 calories aday is used for general nutrition advice. fThe daily value not established.</text>
</svg>
</body></html>
